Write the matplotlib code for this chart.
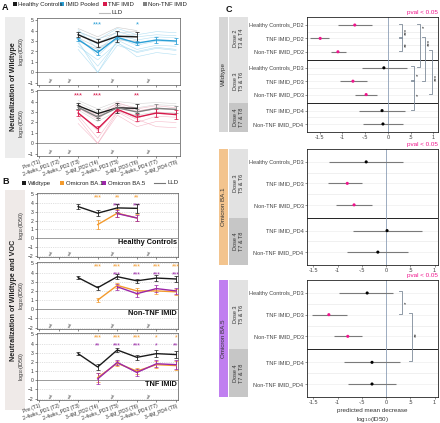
import numpy as np
import matplotlib
matplotlib.use('Agg')
import matplotlib.pyplot as plt
from matplotlib.patches import Rectangle

plt.rcParams['font.family'] = ['Liberation Sans', 'DejaVu Sans']

nan = np.nan
W, H = 440, 423

# ---------------- data ----------------
timepoints = ['Pre (T1)', '2-4wks_PD1 (T2)', '2-4wks_PD2 (T3)', '3-4M_PD2 (T4)',
              '2-4wks_PD3 (T5)', '3-4M_PD3 (T6)', '2-4wks_PD4 (T7)', '3-4M_PD4 (T8)']
tp = np.arange(1, 9)
gap_marks = [1.65, 2.62, 4.79, 6.66]

# panel A top: healthy controls vs pooled IMID (wildtype)
a1_hc = [nan, nan, 3.6, 2.8, 3.45, 3.4, nan, nan]
a1_hc_err = [nan, nan, 0.25, 0.35, 0.5, 0.5, nan, nan]
a1_imid = [nan, nan, 3.15, 1.9, 3.35, 2.8, 3.1, 3.0]
a1_imid_err = [nan, nan, 0.15, 0.2, 0.15, 0.2, 0.25, 0.25]
a1_hc_indiv = [
    [nan, nan, 3.9, 3.2, 3.8, 3.9, nan, nan],
    [nan, nan, 3.3, 2.4, 3.1, 3.0, nan, nan],
    [nan, nan, 4.2, 3.4, 4.3, 4.0, nan, nan],
    [nan, nan, 3.0, 2.2, 3.2, 2.9, nan, nan],
    [nan, nan, 3.6, 2.9, 3.5, 3.6, nan, nan],
]
a1_imid_indiv = [
    [nan, nan, 3.0, 0.0, 3.1, 2.2, 2.6, 2.5],
    [nan, nan, 3.7, 2.7, 3.9, 3.4, 3.6, 3.5],
    [nan, nan, 2.5, 1.2, 2.8, 1.9, 2.3, 2.1],
    [nan, nan, 3.9, 3.1, 4.2, 3.6, 3.9, 3.8],
    [nan, nan, 3.4, 1.6, 3.3, 2.6, 3.0, 2.9],
    [nan, nan, 2.8, 0.6, 2.9, 1.5, 1.9, 1.7],
    [nan, nan, 4.1, 2.2, 3.6, 3.1, 3.4, 3.3],
    [nan, nan, 2.2, 0.0, 2.6, 2.0, 2.4, 2.2],
]
a1_stars = {4: '***', 6: '*'}

# panel A bottom: HC, TNF IMID, non-TNF IMID (wildtype)
a2_hc = [nan, nan, 3.6, 2.85, 3.4, 3.35, nan, nan]
a2_hc_err = [nan, nan, 0.3, 0.4, 0.45, 0.45, nan, nan]
a2_nontnf = [nan, nan, 3.45, 2.5, 3.4, 3.0, 3.35, 3.25]
a2_nontnf_err = [nan, nan, 0.2, 0.25, 0.25, 0.3, 0.4, 0.35]
a2_tnf = [nan, nan, 2.9, 1.4, 3.25, 2.5, 2.9, 2.75]
a2_tnf_err = [nan, nan, 0.25, 0.3, 0.2, 0.35, 0.4, 0.45]
a2_tnf_indiv = [
    [nan, nan, 2.4, 0.0, 3.0, 2.0, 2.6, 2.5],
    [nan, nan, 3.4, 2.3, 3.7, 3.1, 3.4, 3.2],
    [nan, nan, 1.9, 0.0, 2.7, 1.6, 2.1, 2.0],
    [nan, nan, 3.0, 1.2, 3.3, 2.4, 3.0, 2.8],
    [nan, nan, 3.7, 2.6, 3.9, 3.3, 3.6, 3.4],
    [nan, nan, 2.7, 0.5, 3.1, 2.3, 1.6, 1.5],
]
a2_gray_indiv = [
    [nan, nan, 3.9, 3.0, 3.8, 3.4, 3.7, 3.6],
    [nan, nan, 3.2, 2.1, 3.1, 2.7, 3.0, 2.9],
    [nan, nan, 4.1, 3.3, 4.0, 3.8, 3.9, 3.8],
    [nan, nan, 3.5, 2.6, 3.6, 3.0, 3.3, 3.2],
]
a2_stars = {3: '***', 4: '***', 6: '**'}

# panel B: wildtype vs omicron BA.1 / BA.5
b_hc_wt = [nan, nan, 3.6, 2.85, 3.45, 3.4, nan, nan]
b_hc_wt_err = [nan, nan, 0.25, 0.35, 0.45, 0.5, nan, nan]
b_hc_ba1 = [nan, nan, nan, 1.55, 2.85, 2.3, nan, nan]
b_hc_ba1_err = [nan, nan, nan, 0.5, 0.45, 0.4, nan, nan]
b_hc_ba5 = [nan, nan, nan, nan, 2.8, 2.3, nan, nan]
b_hc_ba5_err = [nan, nan, nan, nan, 0.4, 0.35, nan, nan]
b_hc_stars1 = {4: '***', 5: '**', 6: '**'}
b_hc_stars5 = {5: '***', 6: '***'}

b_ntnf_wt = [nan, nan, 3.45, 2.35, 3.55, 3.1, 3.4, 3.3]
b_ntnf_wt_err = [nan, nan, 0.2, 0.2, 0.25, 0.25, 0.35, 0.3]
b_ntnf_ba1 = [nan, nan, nan, 1.0, 2.6, 2.0, 2.0, 1.9]
b_ntnf_ba1_err = [nan, nan, nan, 0.2, 0.3, 0.3, 0.35, 0.35]
b_ntnf_ba5 = [nan, nan, nan, nan, 2.45, 1.7, 2.25, 2.0]
b_ntnf_ba5_err = [nan, nan, nan, nan, 0.3, 0.35, 0.4, 0.35]
b_ntnf_stars1 = {4: '***', 5: '***', 6: '***', 7: '***', 8: '***'}
b_ntnf_stars5 = {5: '***', 6: '***', 7: '***', 8: '***'}

b_tnf_wt = [nan, nan, 2.9, 1.45, 3.3, 2.5, 2.9, 2.8]
b_tnf_wt_err = [nan, nan, 0.2, 0.3, 0.25, 0.25, 0.35, 0.35]
b_tnf_ba1 = [nan, nan, nan, 0.3, 1.85, 1.0, 1.7, 1.6]
b_tnf_ba1_err = [nan, nan, nan, 0.5, 0.3, 0.3, 0.35, 0.45]
b_tnf_ba5 = [nan, nan, nan, 0.15, 1.95, 0.85, 1.8, 1.7]
b_tnf_ba5_err = [nan, nan, nan, 0.6, 0.3, 0.35, 0.4, 0.5]
b_tnf_stars1 = {4: '***', 5: '***', 6: '***', 7: '*', 8: '*'}
b_tnf_stars5 = {4: '**', 5: '***', 6: '***', 7: '*', 8: '**'}

# panel C: forest plots of predicted mean decrease
c_wt_labels = ['Healthy Controls_PD2', 'TNF IMID_PD2', 'Non-TNF IMID_PD2',
               'Healthy Controls_PD3', 'TNF IMID_PD3', 'Non-TNF IMID_PD3',
               'TNF IMID_PD4', 'Non-TNF IMID_PD4']
c_wt_sizes = [3, 3, 2]
c_wt_strips = ['Dose 2\nT3 & T4', 'Dose 3\nT5 & T6', 'Dose 4\nT7 & T8']
c_wt_est = [-0.73, -1.49, -1.10, -0.09, -0.77, -0.48, -0.13, -0.11]
c_wt_lo = [-1.10, -1.71, -1.25, -0.57, -1.05, -0.73, -0.64, -0.55]
c_wt_hi = [-0.35, -1.30, -0.92, 0.42, -0.46, -0.24, 0.37, 0.33]
c_wt_sig = [True, True, True, False, True, True, False, False]
# (row from, row to, x, stars, star row)
c_wt_brackets = [(0, 1, 0.31, '***', 0.5), (1, 2, 0.31, '**', 1.5),
                 (0, 3, 0.70, '*', 0.1), (1, 4, 0.81, '***', 1.3),
                 (2, 5, 0.97, '***', 3.7), (3, 4, 0.57, '*', 3.5),
                 (4, 6, 0.57, '*', 5.0)]

c_voc_labels = ['Healthy Controls_PD3', 'TNF IMID_PD3', 'Non-TNF IMID_PD3',
                'TNF IMID_PD4', 'Non-TNF IMID_PD4']
c_voc_sizes = [3, 2]
c_voc_strips = ['Dose 3\nT5 & T6', 'Dose 4\nT7 & T8']
c_ba1_est = [-0.41, -0.80, -0.66, 0.02, -0.17]
c_ba1_lo = [-1.18, -1.20, -1.03, -0.68, -0.80]
c_ba1_hi = [0.35, -0.50, -0.29, 0.74, 0.45]
c_ba1_sig = [False, True, True, False, False]
c_ba5_est = [-0.39, -1.18, -0.79, -0.29, -0.29]
c_ba5_lo = [-0.97, -1.53, -1.07, -0.87, -0.79]
c_ba5_hi = [0.14, -0.81, -0.50, 0.29, 0.21]
c_ba5_sig = [False, True, True, False, False]
c_ba5_brackets = [(0, 1, 0.33, '*', 0.45), (1, 3, 0.54, '**', 1.9)]

# ---------------- colours ----------------
C_HC = '#1a1a1a'
C_IMID = '#2a9fd6'
C_TNF = '#d7194b'
C_NTNF = '#808080'
C_BA1 = '#f39a2c'
C_BA5 = '#9b27a8'
C_MAG = '#f0148c'

fig = plt.figure(figsize=(W / 100, H / 100), dpi=100)


def px_axes(x0, y0, x1, y1):
    return fig.add_axes([x0 / W, 1 - y1 / H, (x1 - x0) / W, (y1 - y0) / H])


ov = fig.add_axes([0, 0, 1, 1])
ov.set_xlim(0, W)
ov.set_ylim(H, 0)
ov.axis('off')


def time_axis(ax, ylim, yticks, labels, grid=False):
    ax.set_xlim(0.9, 8.2)
    ax.set_ylim(*ylim)
    ax.set_xticks(tp)
    ax.set_yticks(yticks)
    ax.tick_params(labelsize=3.6, length=1.5, width=0.4, pad=1, colors='#333333')
    if labels:
        ax.set_xticklabels(timepoints, rotation=20, ha='right', rotation_mode='anchor')
    else:
        ax.set_xticklabels([])
    ax.set_ylabel(r'log$_{10}$(ID50)', fontsize=4, labelpad=1.5, color='#333333')
    for s in ax.spines.values():
        s.set_linewidth(0.5)
        s.set_color('#555555')
    if grid:
        for y in yticks:
            if y != 0:
                ax.axhline(y, color='#c8c8c8', lw=0.4, ls=(0, (2, 2)), zorder=0)
    ax.axhline(0, color='#9a9a9a', lw=0.7, zorder=1)
    for x in gap_marks:
        ax.text(x, ylim[0] + 0.45, 'n.d.', rotation=60, fontsize=2.6,
                ha='center', va='center', color='#333333')


def series(ax, mean, err, color, lw=1.0):
    ax.errorbar(tp, mean, yerr=err, color=color, lw=lw, elinewidth=0.6,
                capsize=1.2, capthick=0.5, zorder=4)


def stars(ax, d, y, color, size=5.5):
    for t, s in d.items():
        ax.text(t, y, s, color=color, ha='center', va='center', fontsize=size)


# ---------------- panel A ----------------
ov.add_patch(Rectangle((5, 17), 20, 141, color='#ececec', lw=0))
ov.text(14, 87, 'Neutralization of Wildtype', rotation=90, ha='center', va='center',
        fontsize=5.2, fontweight='bold', color='#222222')

ax = px_axes(37, 18, 180, 85)
time_axis(ax, (-1.2, 5.2), range(-1, 6), False)
for row in a1_hc_indiv:
    ax.plot(tp, row, color='#bdbdbd', lw=0.4, alpha=0.8, zorder=2)
for row in a1_imid_indiv:
    ax.plot(tp, row, color='#a9dcf2', lw=0.4, alpha=0.9, zorder=2)
series(ax, a1_hc, a1_hc_err, C_HC)
series(ax, a1_imid, a1_imid_err, C_IMID)
stars(ax, a1_stars, 4.55, C_IMID)

ax = px_axes(37, 90, 180, 156)
time_axis(ax, (-1.2, 5.1), range(-1, 6), True)
for row in a2_gray_indiv:
    ax.plot(tp, row, color='#c9c9c9', lw=0.4, alpha=0.8, zorder=2)
for row in a2_tnf_indiv:
    ax.plot(tp, row, color='#f4b3c4', lw=0.4, alpha=0.9, zorder=2)
series(ax, a2_hc, a2_hc_err, C_HC)
series(ax, a2_nontnf, a2_nontnf_err, C_NTNF)
series(ax, a2_tnf, a2_tnf_err, C_TNF)
stars(ax, a2_stars, 4.5, C_TNF)

# legend A
for x, col, lab in [(13, C_HC, 'Healthy Controls'), (60, C_IMID, 'IMID Pooled'),
                    (103, C_TNF, 'TNF IMID'), (143, C_NTNF, 'Non-TNF IMID')]:
    ov.add_patch(Rectangle((x, 2.5), 4, 4, color=col, lw=0))
    ov.text(x + 5.5, 4.7, lab, fontsize=4.3, va='center', color='#222222')
ov.plot([99, 110], [13, 13], color='#bbbbbb', lw=0.8)
ov.text(112, 13, 'LLD', fontsize=4.3, va='center', color='#222222')

# ---------------- panel B ----------------
ov.add_patch(Rectangle((5, 190), 20, 220, color='#efeae8', lw=0))
ov.text(14, 300, 'Neutralization of Wildtype and VOC', rotation=90, ha='center',
        va='center', fontsize=5.2, fontweight='bold', color='#222222')

b_rows = [
    ((37, 193, 178, 257), 'Healthy Controls', b_hc_wt, b_hc_wt_err, b_hc_ba1, b_hc_ba1_err,
     b_hc_ba5, b_hc_ba5_err, b_hc_stars1, b_hc_stars5, False),
    ((37, 262, 178, 329), 'Non-TNF IMID', b_ntnf_wt, b_ntnf_wt_err, b_ntnf_ba1, b_ntnf_ba1_err,
     b_ntnf_ba5, b_ntnf_ba5_err, b_ntnf_stars1, b_ntnf_stars5, False),
    ((37, 333, 178, 400), 'TNF IMID', b_tnf_wt, b_tnf_wt_err, b_tnf_ba1, b_tnf_ba1_err,
     b_tnf_ba5, b_tnf_ba5_err, b_tnf_stars1, b_tnf_stars5, True),
]
for box, title, wt, wte, ba1, ba1e, ba5, ba5e, s1, s5, lab in b_rows:
    ax = px_axes(*box)
    time_axis(ax, (-2.15, 5.15), range(-2, 6), lab, grid=True)
    ax.set_xlim(0.9, 8.1)
    series(ax, wt, wte, C_HC)
    series(ax, ba1, ba1e, C_BA1)
    series(ax, ba5, ba5e, C_BA5)
    stars(ax, s1, 4.62, C_BA1, size=5)
    stars(ax, s5, 3.72, C_BA5, size=5)
    ax.text(8.05, -0.5, title, ha='right', va='center', fontsize=5.3,
            fontweight='bold', color='#111111')

for x, col, lab in [(22, C_HC, 'Wildtype'), (60, C_BA1, 'Omicron BA.1'),
                    (102, C_BA5, 'Omicron BA.5')]:
    ov.add_patch(Rectangle((x, 181), 4, 4, color=col, lw=0))
    ov.text(x + 5.5, 183.2, lab, fontsize=4.3, va='center', color='#222222')
ov.plot([154, 165], [183, 183], color='#777777', lw=0.8)
ov.text(167, 183, 'LLD', fontsize=4.3, va='center', color='#222222')

# ---------------- panel C ----------------
strip_col = {'Dose 2': '#e2e2e2', 'Dose 3': '#e2e2e2', 'Dose 4': '#c6c6c6'}


def forest(box, labels, sizes, strips, outer, outer_col, est, lo, hi, sig, xlim,
           brackets, xlabel=False):
    ax = px_axes(*box)
    pos, bounds, off = [], [0.0], 0.0
    for n in sizes:
        pos += [off + 0.6 + k for k in range(n)]
        off += n + 0.2
        bounds.append(off)
    pos = np.array(pos)
    ax.set_ylim(off, 0)
    ax.set_xlim(*xlim)
    for p in pos:
        ax.axhline(p, color='#efefef', lw=0.5, zorder=0)
    for a, b in zip(pos[:-1], pos[1:]):
        if b - a < 1.1:
            ax.axhline((a + b) / 2, color='#eaeaea', lw=0.5, zorder=0)
    for b in bounds[1:-1]:
        ax.axhline(b, color='#222222', lw=0.7, zorder=1)
    ax.axvline(0, color='#8c9db5', lw=0.6, zorder=1)
    ax.hlines(pos, lo, hi, color='#7a7a7a', lw=0.8, zorder=2)
    ax.scatter(est, pos, s=5, c=[C_MAG if s else 'black' for s in sig],
               zorder=3, linewidths=0)
    ax.set_yticks(pos)
    ax.set_yticklabels(labels)
    ax.set_xticks([-1.5, -1, -0.5, 0, 0.5, 1])
    ax.set_xticklabels(['-1.5', '-1', '-.5', '0', '.5', '1'])
    ax.tick_params(labelsize=4, length=1.5, width=0.4, pad=1, colors='#444444')
    for s in ax.spines.values():
        s.set_linewidth(0.6)
        s.set_color('#222222')
    dx = (xlim[1] - xlim[0]) * 0.025
    for r0, r1, xb, lab, srow in brackets:
        ya, yb = pos[r0] - 0.1, pos[r1] - 0.05
        ax.plot([xb - dx, xb, xb, xb - dx], [ya, ya, yb, yb], color='#7d8a99',
                lw=0.6, zorder=2)
        ax.text(xb + dx * 1.3, np.interp(srow, np.arange(len(pos)), pos), lab,
                rotation=90, ha='center', va='center', fontsize=4.5, color='#222222')
    ax.text(1, 1.015, 'pval < 0.05', transform=ax.transAxes, ha='right',
            va='bottom', color=C_MAG, fontsize=4.5)
    if xlabel:
        ax.set_xlabel('predicted mean decrease\n' + r'log$_{10}$(ID50)', fontsize=4.5,
                      labelpad=2, color='#333333', linespacing=1.3)
    x0, y0, x1, y1 = box
    ov.add_patch(Rectangle((219, y0), 9, y1 - y0, color=outer_col, lw=0))
    ov.text(223.7, (y0 + y1) / 2, outer, rotation=90, ha='center', va='center',
            fontsize=4.5, color='#333333')
    for lab, b0, b1 in zip(strips, bounds[:-1], bounds[1:]):
        py0 = y0 + (y1 - y0) * b0 / off
        py1 = y0 + (y1 - y0) * b1 / off
        ov.add_patch(Rectangle((229, py0), 19, py1 - py0, color=strip_col[lab[:6]], lw=0))
        ov.text(238.5, (py0 + py1) / 2, lab, rotation=90, ha='center', va='center',
                fontsize=4, color='#333333', linespacing=1.15)
    return ax


forest((307, 17, 438, 132), c_wt_labels, c_wt_sizes, c_wt_strips, 'Wildtype', '#d6d6d6',
       c_wt_est, c_wt_lo, c_wt_hi, c_wt_sig, (-1.78, 1.10), c_wt_brackets)
forest((307, 149, 438, 265), c_voc_labels, c_voc_sizes, c_voc_strips, 'Omicron BA.1',
       '#f3c48e', c_ba1_est, c_ba1_lo, c_ba1_hi, c_ba1_sig, (-1.63, 1.07), [])
forest((307, 280, 438, 397), c_voc_labels, c_voc_sizes, c_voc_strips, 'Omicron BA.5',
       '#c07ff0', c_ba5_est, c_ba5_lo, c_ba5_hi, c_ba5_sig, (-1.63, 1.07),
       c_ba5_brackets, xlabel=True)

# panel letters
for x, y, s in [(2, 7, 'A'), (2, 182, 'B'), (226, 9, 'C')]:
    ov.text(x, y, s, fontsize=6.5, fontweight='bold', va='center', color='#111111')

fig.savefig('out.png', dpi=100)
